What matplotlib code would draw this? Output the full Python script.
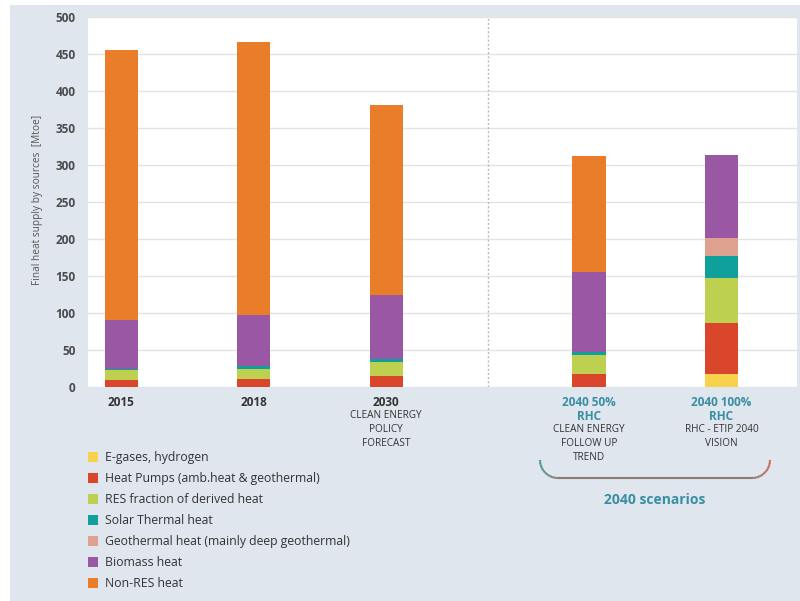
import matplotlib
matplotlib.use("Agg")
import matplotlib.pyplot as plt
import numpy as np
from matplotlib.patches import Patch, Rectangle
from matplotlib.collections import LineCollection
from matplotlib.colors import to_rgb

plt.rcParams['font.family'] = ['Open Sans', 'DejaVu Sans']

# ---------------- data ----------------
categories = ["2015", "2018", "2030", "2040 50%", "2040 100%"]
line2 = ["", "", "", "RHC", "RHC"]
sub_labels = ["", "", "CLEAN ENERGY\nPOLICY\nFORECAST",
              "CLEAN ENERGY\nFOLLOW UP\nTREND", "RHC - ETIP 2040\nVISION"]
x_pos = [0, 1, 2, 3.53, 4.53]

series_names = ["E-gases, hydrogen", "Heat Pumps (amb.heat & geothermal)",
                "RES fraction of derived heat", "Solar Thermal heat",
                "Geothermal heat (mainly deep geothermal)", "Biomass heat",
                "Non-RES heat"]
egas    = [0, 0, 0, 0, 17]
hp      = [10, 11, 15, 18, 70]
res     = [13, 14, 19, 25, 60]
solar   = [1, 3, 4, 4, 30]
geo     = [0, 0, 0, 0, 25]
biomass = [66, 69, 86, 108, 111]
nonres  = [365, 369, 257, 157, 0]
series = [egas, hp, res, solar, geo, biomass, nonres]
colors = ["#f8d24c", "#d9462c", "#bdd04f", "#10a09c", "#dea08f", "#9a58a4", "#e97d2a"]

yticks = [0, 50, 100, 150, 200, 250, 300, 350, 400, 450, 500]
ylabel = "Final heat supply by sources  [Mtoe]"
group_label = "2040 scenarios"

# ---------------- figure ----------------
W, H = 800, 601
fig = plt.figure(figsize=(W / 100, H / 100), dpi=100, facecolor="white")
bg = "#dfe6ee"
fig.patches.append(Rectangle((10 / W, 0), 1 - 10 / W, (H - 5) / H,
                             transform=fig.transFigure, facecolor=bg,
                             edgecolor="none", zorder=-10))

ax = fig.add_axes([88 / W, (H - 387) / H, 709 / W, 370 / H])
ax.set_facecolor("white")
bottom = np.zeros(len(categories))
for vals, col in zip(series, colors):
    ax.bar(x_pos, vals, bottom=bottom, width=0.25, color=col, zorder=3)
    bottom += np.array(vals)

ax.set_ylim(0, 500)
ax.set_xlim(-0.25, 5.1)
ax.set_yticks(yticks)
ax.set_yticklabels([str(t) for t in yticks], fontsize=8.5, fontweight="bold",
                   color="#4a4a4a")
ax.tick_params(axis="y", length=0, pad=9)
ax.set_xticks([])
ax.grid(axis="y", color="#e3e3e3", linewidth=1, zorder=0)
for s in ax.spines.values():
    s.set_visible(False)
ax.axvline(2.77, color="#bbbbbb", linestyle=(0, (1.5, 1.5)), linewidth=1, zorder=2)

fig.text(38 / W, 1 - 200 / H, ylabel, rotation=90, fontsize=7.3, color="#555555",
         ha="center", va="center")

# x labels (pixel positions from the top of the figure)
def fy(py):
    return 1 - py / H

for i, (cat, l2, sub) in enumerate(zip(categories, line2, sub_labels)):
    xf = ax.transData.transform((x_pos[i], 0))[0] / W
    if l2:
        fig.text(xf, fy(403), cat, ha="center", va="center", fontsize=8.5,
                 fontweight="bold", color="#3a8ea2")
        fig.text(xf, fy(416), l2, ha="center", va="center", fontsize=8.5,
                 fontweight="bold", color="#3a8ea2")
        fig.text(xf, fy(423.5), sub, ha="center", va="top", fontsize=7.2,
                 color="#333333", linespacing=1.42)
    else:
        fig.text(xf, fy(403), cat, ha="center", va="center", fontsize=8.5,
                 fontweight="bold", color="#333333")
        if sub:
            fig.text(xf, fy(409.5), sub, ha="center", va="top", fontsize=7.2,
                     color="#333333", linespacing=1.42)

# brace (pixel coords, top origin)
pts = []
for t in np.linspace(np.pi, 1.5 * np.pi, 20):
    pts.append((558 + 18 * np.cos(t), 460 - 18 * np.sin(t)))
for t in np.linspace(1.5 * np.pi, 2 * np.pi, 20):
    pts.append((752 + 18 * np.cos(t), 460 - 18 * np.sin(t)))
pts = np.array(pts)
pts[:, 0] /= W
pts[:, 1] = 1 - pts[:, 1] / H
segs = [[pts[i], pts[i + 1]] for i in range(len(pts) - 1)]
c1, c2 = np.array(to_rgb("#3a9a96")), np.array(to_rgb("#d9604a"))
fr = np.linspace(0, 1, len(segs))
lc = LineCollection(segs, colors=[c1 * (1 - f) + c2 * f for f in fr], linewidths=1.5,
                    transform=fig.transFigure)
fig.add_artist(lc)
fig.text(655 / W, fy(500), group_label, ha="center", va="center", fontsize=10,
         fontweight="bold", color="#3a8ea2")

# legend
handles = [Patch(facecolor=c, edgecolor="none") for c in colors]
fig.legend(handles, series_names, loc="upper left", bbox_to_anchor=(83 / W, fy(446)),
           frameon=False, fontsize=8.8, handlelength=0.85, handleheight=0.85,
           handletextpad=0.55, labelspacing=0.66, borderaxespad=0, labelcolor="#333333")

fig.savefig("out.png", dpi=100, facecolor=fig.get_facecolor())
